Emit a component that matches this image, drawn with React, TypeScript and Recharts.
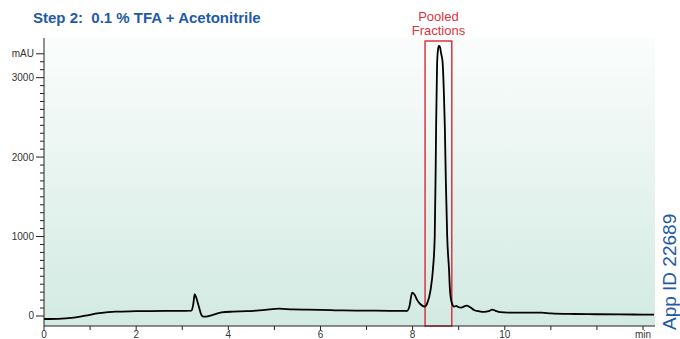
import React from "react";
import { LineChart, Line, XAxis, YAxis, ReferenceArea } from "recharts";

// retention time (min)
const times = [
  0.0, 0.3, 0.65, 0.9, 1.2, 1.55, 2.0, 2.6, 2.9, 3.2, 3.24, 3.27, 3.31, 3.36, 3.42, 3.46, 3.55, 3.7,
  3.85, 4.1, 4.4, 4.8, 5.1, 5.4, 6.0, 6.5, 7.0, 7.5, 7.88, 7.93, 7.99, 8.04, 8.1, 8.17, 8.26, 8.32,
  8.39, 8.44, 8.48, 8.5, 8.51, 8.53, 8.55, 8.57, 8.59, 8.62, 8.65, 8.68, 8.7, 8.72, 8.75, 8.79, 8.81,
  8.85, 8.9, 8.95, 9.0, 9.05, 9.17, 9.25, 9.33, 9.45, 9.55, 9.65, 9.73, 9.8, 9.9, 10.06, 10.5, 10.8,
  11.0, 11.5, 12.0, 12.5, 13.0, 13.24,
];
// absorbance (mAU)
const signal = [
  -38, -36, -20, 5, 35, 55, 60, 65, 64, 67, 150, 275, 220, 120, 10, -8, -5, 20,
  45, 55, 60, 78, 92, 82, 78, 70, 68, 65, 65, 120, 295, 270, 200, 148, 118, 165,
  330, 582, 1004, 1850, 2400, 3150, 3350, 3401, 3390, 3300, 3199, 2776, 2354, 1722, 1004, 582, 330,
  165, 118, 128, 110, 105, 130, 110, 76, 58, 51, 60, 80, 65, 48, 42, 42, 42,
  33, 25, 22, 20, 18, 17,
];

const xTicks = [0, 1, 2, 3, 4, 5, 6, 7, 8, 9, 10, 11, 12, 13];
const xLabels: Record<number, string> = { 0: "0", 2: "2", 4: "4", 6: "6", 8: "8", 10: "10", 13: "min" };
const yTicks = Array.from({ length: 34 }, (_, i) => i * 100);
const yLabels: Record<number, string> = { 0: "0", 1000: "1000", 2000: "2000", 3000: "3000", 3300: "mAU" };

const pooled = { start: 8.27, end: 8.85 };

const data = times.map((t, i) => ({ t, v: signal[i] }));

const BLUE = "#1f5aa8";
const RED = "#dc3540";
const FONT = "'Liberation Sans', Arial, sans-serif";

const YTick = (props: any) => {
  const { x, y, payload } = props;
  const label = yLabels[payload.value];
  const len = label ? 8 : 4;
  return (
    <g>
      <line x1={x - len} x2={x} y1={y} y2={y} stroke="#222" strokeWidth={1} />
      {label && (
        <text x={x - 10} y={y} dy={3.5} textAnchor="end" fontSize={10} fill="#333" fontFamily={FONT}>
          {label}
        </text>
      )}
    </g>
  );
};

const XTick = (props: any) => {
  const { x, y, payload } = props;
  const label = xLabels[payload.value];
  return (
    <g>
      <line x1={x} x2={x} y1={y} y2={y + 4} stroke="#222" strokeWidth={1} />
      {label && (
        <text x={x} y={y + 12} textAnchor="middle" fontSize={10} fill="#333" fontFamily={FONT}>
          {label}
        </text>
      )}
    </g>
  );
};

const PoolLabel = (props: any) => {
  const vb = props.viewBox || {};
  const cx = vb.x + vb.width / 2;
  return (
    <g fontFamily={FONT} fontSize={13} fill={RED} textAnchor="middle">
      <text x={cx} y={vb.y - 20}>Pooled</text>
      <text x={cx} y={vb.y - 6}>Fractions</text>
    </g>
  );
};

export default function App() {
  return (
    <div style={{ position: "absolute", left: 0, top: 0, width: 680, height: 339, background: "#fff" }}>
      <div
        style={{
          position: "absolute",
          left: 33,
          top: 9,
          fontFamily: FONT,
          fontWeight: "bold",
          fontSize: 15,
          color: BLUE,
          whiteSpace: "pre",
        }}
      >
        {"Step 2:  0.1 % TFA + Acetonitrile"}
      </div>
      <LineChart width={680} height={339} data={data} margin={{ top: 38, right: 25, bottom: 0, left: 0 }}>
        <defs>
          <linearGradient id="bg" x1="0" y1="0" x2="0" y2="1">
            <stop offset="0%" stopColor="#fbfdfc" />
            <stop offset="100%" stopColor="#d2eae2" />
          </linearGradient>
        </defs>
        <XAxis
          dataKey="t"
          type="number"
          domain={[0, 13.26]}
          ticks={xTicks}
          interval={0}
          height={13}
          tickSize={0}
          tickMargin={0}
          tickLine={false}
          axisLine={{ stroke: "#222" }}
          tick={<XTick />}
        />
        <YAxis
          type="number"
          domain={[-126, 3499]}
          ticks={yTicks}
          interval={0}
          width={44}
          tickSize={0}
          tickMargin={0}
          tickLine={false}
          axisLine={{ stroke: "#222" }}
          tick={<YTick />}
        />
        <ReferenceArea x1={0} x2={13.26} y1={-126} y2={3499} fill="url(#bg)" fillOpacity={1} stroke="none" />
        <Line
          dataKey="v"
          type="monotone"
          stroke="#000"
          strokeWidth={1.8}
          dot={false}
          isAnimationActive={false}
        />
        <ReferenceArea
          x1={pooled.start}
          x2={pooled.end}
          y1={-126}
          y2={3460}
          fill="none"
          stroke={RED}
          strokeWidth={1.5}
          fillOpacity={0}
          ifOverflow="visible"
          label={<PoolLabel />}
        />
      </LineChart>
      <div
        style={{
          position: "absolute",
          left: 659,
          top: 330,
          transform: "rotate(-90deg)",
          transformOrigin: "0 0",
          fontFamily: FONT,
          fontSize: 19,
          color: BLUE,
          whiteSpace: "nowrap",
          lineHeight: "22px",
        }}
      >
        App ID 22689
      </div>
    </div>
  );
}
